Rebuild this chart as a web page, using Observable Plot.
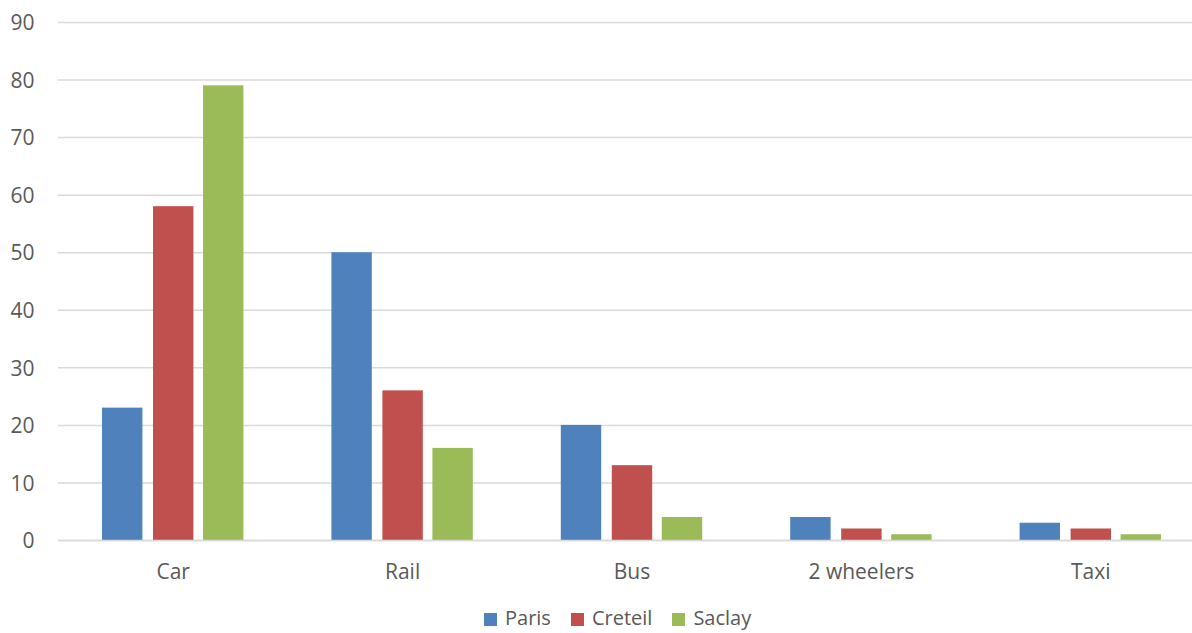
<!DOCTYPE html>
<html>
<head>
<meta charset="utf-8">
<script src="https://cdn.jsdelivr.net/npm/d3@7"></script>
<script src="https://cdn.jsdelivr.net/npm/@observablehq/plot@0.6"></script>
<style>
  html, body { margin: 0; padding: 0; background: #fff; overflow: hidden; }
  body { width: 1192px; height: 633px; font-family: "Open Sans", sans-serif; }
  #legend { display: flex; align-items: center; margin-left: 484px; padding-top: 10px;
            font-size: 20px; color: #595959; line-height: 26px; white-space: nowrap; }
  .item { display: flex; align-items: center; margin-right: 20px; }
  .sw { width: 13px; height: 13px; margin-right: 8px; margin-top: 3px; }
</style>
</head>
<body>
<div id="chart"></div>
<div id="legend"></div>
<script>
const categories = ["Car", "Rail", "Bus", "2 wheelers", "Taxi"];
const series = ["Paris", "Creteil", "Saclay"];
const paris = [23, 50, 20, 4, 3];
const creteil = [58, 26, 13, 2, 2];
const saclay = [79, 16, 4, 1, 1];
const yTicks = [0, 10, 20, 30, 40, 50, 60, 70, 80, 90];

const colors = ["#4F81BD", "#C0504D", "#9BBB59"];
const values = [paris, creteil, saclay];
const data = [];
series.forEach((s, i) => categories.forEach((c, j) => data.push({category: c, series: s, value: values[i][j]})));

const insets = [[44, 145], [95, 94], [145, 44]];

const chart = Plot.plot({
  width: 1192,
  height: 595,
  marginLeft: 58,
  marginRight: 0,
  marginTop: 22,
  marginBottom: 55,
  style: {fontFamily: "Open Sans, sans-serif", fontSize: "21px", color: "#595959", background: "#fff"},
  x: {domain: categories, range: [58, 1205], padding: 0, round: false, label: null},
  y: {domain: [0, 90], label: null},
  marks: [
    Plot.ruleY(yTicks, {stroke: "#d9d9d9", strokeWidth: 1.5}),
    ...series.map((s, i) => Plot.barY(data.filter(d => d.series === s), {
      x: "category", y: "value", fill: colors[i],
      insetLeft: insets[i][0], insetRight: insets[i][1]
    })),
    Plot.ruleY([0], {stroke: "#d9d9d9", strokeWidth: 1.5}),
    Plot.axisY({ticks: yTicks, tickSize: 0, tickPadding: 24, fill: "#595959", fontSize: 21, label: null, dy: 1}),
    Plot.axisX({tickSize: 0, tickPadding: 24, fill: "#595959", fontSize: 21, label: null})
  ]
});
document.getElementById("chart").appendChild(chart);

const legend = document.getElementById("legend");
series.forEach((s, i) => {
  const item = document.createElement("div");
  item.className = "item";
  const sw = document.createElement("div");
  sw.className = "sw";
  sw.style.background = colors[i];
  const t = document.createElement("span");
  t.textContent = s;
  item.appendChild(sw);
  item.appendChild(t);
  legend.appendChild(item);
});
</script>
</body>
</html>
